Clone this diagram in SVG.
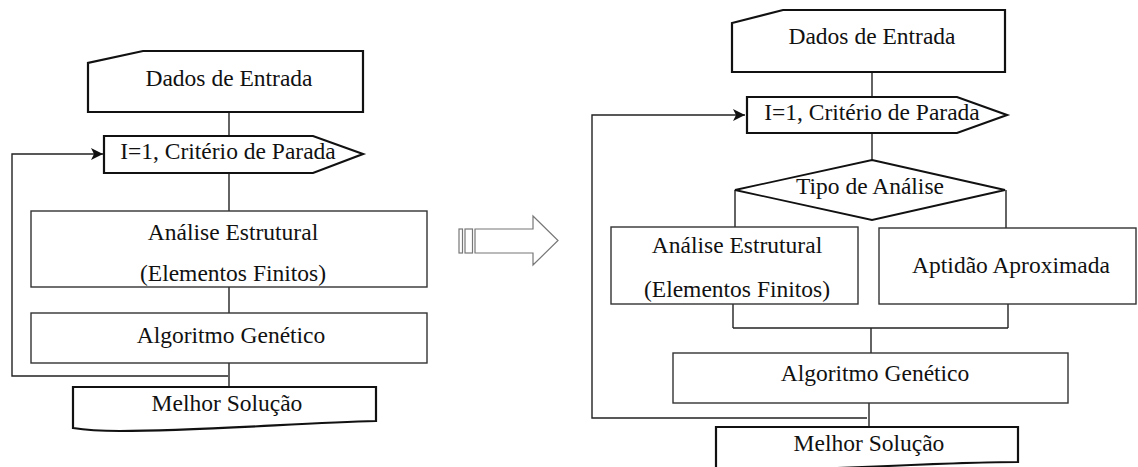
<svg xmlns="http://www.w3.org/2000/svg" width="1138" height="467" viewBox="0 0 1138 467" font-family="'Liberation Serif', 'DejaVu Serif', 'Times New Roman', serif">
<defs>
<style>
text{font-family:'Liberation Serif','DejaVu Serif','Times New Roman',serif;font-size:23.5px;fill:#111;text-anchor:middle}
.thick{fill:#fff;stroke:#111;stroke-width:2.2;stroke-linejoin:miter}
.box{fill:#fff;stroke:#333;stroke-width:1.4}
.ln{fill:none;stroke:#222;stroke-width:1.4}
.big{fill:#fff;stroke:#777;stroke-width:1.2}
</style>
<marker id="arr" markerUnits="userSpaceOnUse" markerWidth="13" markerHeight="12" refX="12" refY="6" orient="auto">
<path d="M0,0 L12,6 L0,12 L3,6 Z" fill="#111"/>
</marker>
</defs>
<rect width="1138" height="467" fill="#fff"/>

<g id="connectors">
<path class="ln" d="M229,112 V136"/>
<path class="ln" d="M229,173 V211"/>
<path class="ln" d="M229,287 V313"/>
<path class="ln" d="M229,363 V387"/>
<path class="ln" d="M228,376 H12 V154 H103" marker-end="url(#arr)"/>
<path class="ln" d="M872,72 V97"/>
<path class="ln" d="M872,133 V160"/>
<path class="ln" d="M735,190 V227"/>
<path class="ln" d="M1006,190 V229"/>
<path class="ln" d="M733,304 V328"/>
<path class="ln" d="M1008,304 V328"/>
<path class="ln" d="M733,328 H1008"/>
<path class="ln" d="M871,328 V353"/>
<path class="ln" d="M869,403 V427"/>
<path class="ln" d="M867,418 H592 V115 H745" marker-end="url(#arr)"/>
</g>

<g id="left-dados">
<path class="thick" d="M88,112 V63 L143,51 H363 V112 Z"/>
<text x="229" y="86">Dados de Entrada</text>
</g>
<g id="left-criterio">
<path class="thick" d="M104,136 H313 L363,154 L313,173 H104 Z"/>
<text x="228" y="159">I=1, Critério de Parada</text>
</g>
<g id="left-analise">
<rect class="box" x="31" y="211" width="396" height="76"/>
<text x="233" y="240">Análise Estrutural</text>
<text x="233" y="281">(Elementos Finitos)</text>
</g>
<g id="left-algoritmo">
<rect class="box" x="31" y="313" width="396" height="50"/>
<text x="231" y="343">Algoritmo Genético</text>
</g>
<g id="left-melhor">
<path class="thick" d="M73,387 H376 V421 C300,423 200,431 120,431 C100,431 85,430 73,428 Z"/>
<text x="227" y="411">Melhor Solução</text>
</g>

<g id="transform-arrow">
<rect class="big" x="459" y="229" width="3.5" height="24"/>
<rect class="big" x="465" y="229" width="7.5" height="24"/>
<polygon class="big" points="475,229 533,229 533,216 558,240.5 533,265 533,253 475,253"/>
</g>

<g id="right-dados">
<path class="thick" d="M732,72 V23 L783,10 H1005 V72 Z"/>
<text x="872" y="44">Dados de Entrada</text>
</g>
<g id="right-criterio">
<path class="thick" d="M747,97 H957 L1007,115 L957,133 H747 Z"/>
<text x="872" y="120">I=1, Critério de Parada</text>
</g>
<g id="right-tipo">
<polygon class="thick" points="872,160 1005,190 872,220 735,190" style="stroke-width:1.8"/>
<text x="870" y="194">Tipo de Análise</text>
</g>
<g id="right-analise">
<rect class="box" x="611" y="227" width="247" height="77"/>
<text x="737" y="253">Análise Estrutural</text>
<text x="737" y="297">(Elementos Finitos)</text>
</g>
<g id="right-aptidao">
<rect class="box" x="879" y="228" width="257" height="76"/>
<text x="1011" y="273">Aptidão Aproximada</text>
</g>
<g id="right-algoritmo">
<rect class="box" x="673" y="353" width="395" height="50"/>
<text x="875" y="381">Algoritmo Genético</text>
</g>
<g id="right-melhor">
<path class="thick" d="M716,427 H1018 V462 C940,462 830,470 716,472 Z"/>
<text x="869" y="451">Melhor Solução</text>
</g>
</svg>
